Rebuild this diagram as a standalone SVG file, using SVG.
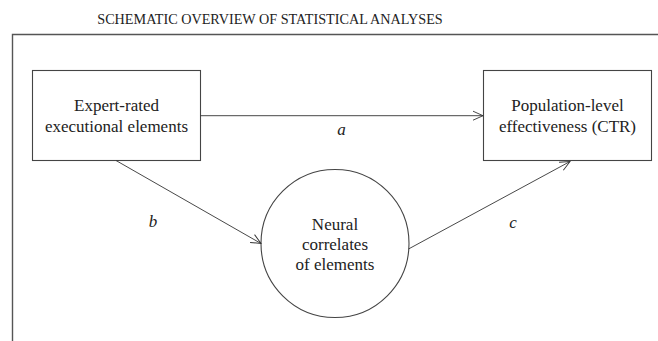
<svg xmlns="http://www.w3.org/2000/svg" width="658" height="341" viewBox="0 0 658 341">
  <defs>
    <style>
      text { font-family: "Liberation Serif", "Times New Roman", serif; fill: #222; }
      .title { font-size: 14.2px; }
      .lbl { font-size: 17px; text-anchor: middle; }
      .it { font-size: 17px; font-style: italic; text-anchor: middle; }
      .box { fill: #fff; stroke: #444; stroke-width: 1.1; }
      .conn { fill: none; stroke: #333; stroke-width: 0.9; }
      .frame { fill: none; stroke: #555; stroke-width: 1.4; }
    </style>
    <marker id="arr" viewBox="0 0 12 12" refX="11" refY="6" markerWidth="12" markerHeight="12" markerUnits="userSpaceOnUse" orient="auto">
      <path d="M1,1.5 L11,6 L1,10.5" fill="none" stroke="#333" stroke-width="0.9"/>
    </marker>
  </defs>
  <text class="title" x="270" y="24" text-anchor="middle" font-family="Liberation Serif, serif">SCHEMATIC OVERVIEW OF STATISTICAL ANALYSES</text>
  <path class="frame" d="M12.5,341 V34.5 H658"/>
  <g id="node-expert" font-family="Liberation Serif, serif">
    <rect class="box" x="32.5" y="70.5" width="168" height="90"/>
    <text class="lbl" x="116.5" y="111">Expert-rated</text>
    <text class="lbl" x="116.5" y="132">executional elements</text>
  </g>
  <g id="node-population" font-family="Liberation Serif, serif">
    <rect class="box" x="483.5" y="70.5" width="168" height="90"/>
    <text class="lbl" x="567.5" y="111">Population-level</text>
    <text class="lbl" x="567.5" y="132">effectiveness (CTR)</text>
  </g>
  <g id="node-neural" font-family="Liberation Serif, serif">
    <circle class="box" cx="335" cy="243.5" r="74"/>
    <text class="lbl" x="335" y="230">Neural</text>
    <text class="lbl" x="335" y="250">correlates</text>
    <text class="lbl" x="335" y="270">of elements</text>
  </g>
  <g id="connectors">
    <line class="conn" x1="200.5" y1="115.7" x2="483" y2="115.7" marker-end="url(#arr)"/>
    <line class="conn" x1="116" y1="160.5" x2="261" y2="243.5" marker-end="url(#arr)"/>
    <line class="conn" x1="408.5" y1="249" x2="570" y2="161.5" marker-end="url(#arr)"/>
    <text class="it" x="341.5" y="135">a</text>
    <text class="it" x="153" y="227">b</text>
    <text class="it" x="513" y="228">c</text>
  </g>
</svg>
